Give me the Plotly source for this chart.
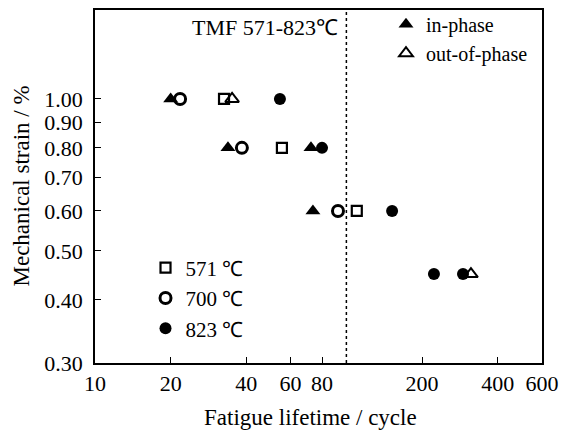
import plotly.graph_objects as go

# ---- data (cycles to failure, mechanical strain %) ----
t571_life = [32.6, 55.4, 110]
t571_strain = [1.00, 0.80, 0.60]

t700_life = [21.8, 38.4, 92.6]
t700_strain = [1.00, 0.80, 0.60]

t823_life = [54.4, 80.0, 152, 223, 291]
t823_strain = [1.00, 0.80, 0.60, 0.45, 0.45]

inphase_life = [20.0, 33.8, 72.3, 73.6]
inphase_strain = [1.00, 0.80, 0.80, 0.60]

outphase_life = [35.1, 313]
outphase_strain = [1.00, 0.45]

boundary_cycles = 100

x_tickvals = [10, 20, 40, 60, 80, 200, 400, 600]
x_ticktext = ["10", "20", "40", "60", "80", "200", "400", "600"]
y_tickvals = [0.30, 0.40, 0.50, 0.60, 0.70, 0.80, 0.90, 1.00]
y_ticktext = ["0.30", "0.40", "0.50", "0.60", "0.70", "0.80", "0.90", "1.00"]

FONT = '"Liberation Serif", "Times New Roman", serif'

fig = go.Figure()

fig.add_trace(go.Scatter(
    x=t571_life, y=t571_strain, mode="markers", name="571 ℃", legend="legend",
    marker=dict(symbol="square-open", size=10, color="black", line=dict(width=2.2)),
))
fig.add_trace(go.Scatter(
    x=t700_life, y=t700_strain, mode="markers", name="700 ℃", legend="legend",
    marker=dict(symbol="circle-open", size=11, color="black", line=dict(width=3)),
))
fig.add_trace(go.Scatter(
    x=t823_life, y=t823_strain, mode="markers", name="823 ℃", legend="legend",
    marker=dict(symbol="circle", size=12, color="black"),
))
fig.add_trace(go.Scatter(
    x=inphase_life, y=inphase_strain, mode="markers", name="in-phase", legend="legend2",
    marker=dict(symbol="triangle-up", size=13, color="black"),
))
fig.add_trace(go.Scatter(
    x=outphase_life, y=outphase_strain, mode="markers", name="out-of-phase", legend="legend2",
    marker=dict(symbol="triangle-up-open", size=12, color="black", line=dict(width=2)),
))

fig.add_shape(type="line", xref="x", yref="paper",
              x0=boundary_cycles, x1=boundary_cycles, y0=0, y1=1,
              line=dict(color="black", width=1.5, dash="dot"))

fig.add_annotation(text="TMF 571-823℃", xref="paper", yref="paper",
                   x=0.548, y=0.95, xanchor="right", yanchor="middle",
                   showarrow=False, font=dict(family=FONT, size=22, color="black"))

# axis titles
fig.add_annotation(text="Mechanical strain / %", xref="paper", yref="paper",
                   x=-0.1655, y=0.5, xanchor="center", yanchor="middle", textangle=-90,
                   showarrow=False, font=dict(family=FONT, size=23, color="black"))
fig.add_annotation(text="Fatigue lifetime / cycle", xref="paper", yref="paper",
                   x=0.482, y=-0.1536, xanchor="center", yanchor="middle",
                   showarrow=False, font=dict(family=FONT, size=23, color="black"))

fig.update_layout(
    width=563, height=435,
    margin=dict(l=95, r=21, t=5, b=72),
    paper_bgcolor="white", plot_bgcolor="white",
    font=dict(family=FONT, size=22, color="black"),
    legend=dict(x=0.113, y=0.327, xanchor="left", yanchor="top",
                bgcolor="rgba(0,0,0,0)", font=dict(family=FONT, size=21),
                tracegroupgap=0),
    legend2=dict(x=0.651, y=1.015, xanchor="left", yanchor="top",
                 bgcolor="rgba(0,0,0,0)", font=dict(family=FONT, size=20),
                 tracegroupgap=0),
    showlegend=True,
)

fig.update_xaxes(type="log", range=[1, 2.77815], tickvals=x_tickvals, ticktext=x_ticktext,
                 ticks="inside", ticklen=6, tickwidth=1.2, tickcolor="black",
                 showline=True, linecolor="black", linewidth=1.5, mirror=True,
                 showgrid=False, zeroline=False,
                 tickfont=dict(family=FONT, size=22))
fig.update_yaxes(type="log", range=[-0.52288, 0.17609], tickvals=y_tickvals, ticktext=y_ticktext,
                 ticks="inside", ticklen=6, tickwidth=1.2, tickcolor="black",
                 showline=True, linecolor="black", linewidth=1.5, mirror=True,
                 showgrid=False, zeroline=False, ticklabelstandoff=6,
                 tickfont=dict(family=FONT, size=22))

fig.write_html("out.html", config={"displayModeBar": False},
               post_script="document.body.style.margin='0';")
